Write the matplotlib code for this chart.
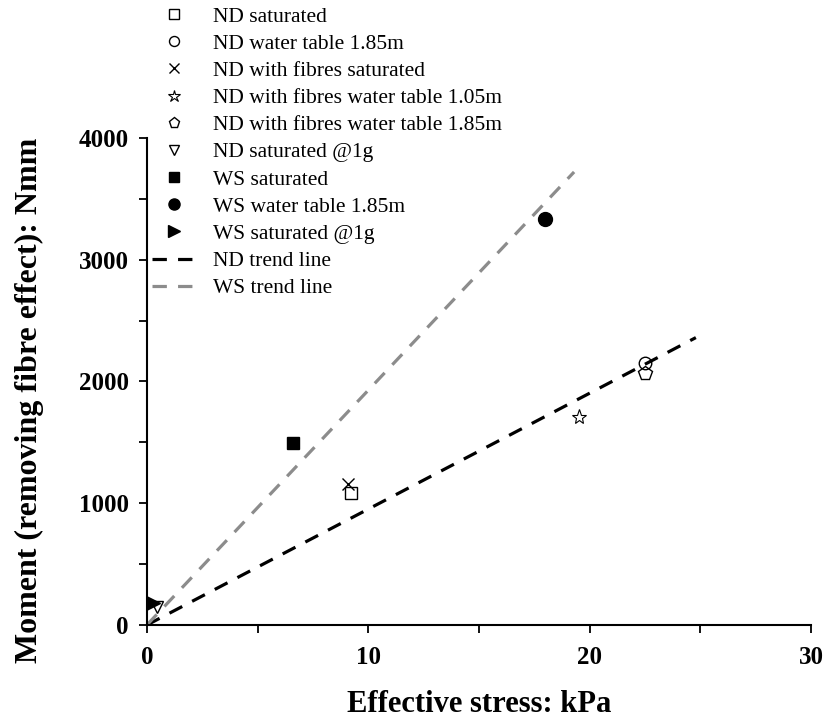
import matplotlib
matplotlib.use("Agg")
import matplotlib.pyplot as plt
import numpy as np

plt.rcParams['font.family'] = ['Liberation Serif', 'DejaVu Serif']

# Data (effective stress kPa, moment Nmm)
nd_sat_x, nd_sat_y = [9.2], [1085]
nd_wt185_x, nd_wt185_y = [22.5], [2150]
nd_fib_sat_x, nd_fib_sat_y = [9.1], [1155]
nd_fib_wt105_x, nd_fib_wt105_y = [19.5], [1710]
nd_fib_wt185_x, nd_fib_wt185_y = [22.5], [2070]
nd_sat1g_x, nd_sat1g_y = [0.45], [145]
ws_sat_x, ws_sat_y = [6.6], [1495]
ws_wt185_x, ws_wt185_y = [18.0], [3335]
ws_sat1g_x, ws_sat1g_y = [0.3], [180]

nd_trend_x, nd_trend_y = [0, 24.8], [0, 2360]
ws_trend_x, ws_trend_y = [0, 19.3], [0, 3720]

fig = plt.figure(figsize=(8.25, 7.18), dpi=100)
ax = fig.add_axes([0.178, 0.1295, 0.805, 0.6785])

ms = 9
ax.plot(nd_sat_x, nd_sat_y, 's', ms=ms, mfc='white', mec='black', mew=1.0, ls='none', label='ND saturated')
ax.plot(nd_wt185_x, nd_wt185_y, 'o', ms=ms, mfc='none', mec='black', mew=1.0, ls='none', label='ND water table 1.85m')
ax.plot(nd_fib_sat_x, nd_fib_sat_y, 'x', ms=ms, mec='black', mew=1.0, ls='none', label='ND with fibres saturated')
ax.plot(nd_fib_wt105_x, nd_fib_wt105_y, '*', ms=ms+2, mfc='white', mec='black', mew=0.8, ls='none', label='ND with fibres water table 1.05m')
ax.plot(nd_fib_wt185_x, nd_fib_wt185_y, 'p', ms=ms+1, mfc='none', mec='black', mew=1.0, ls='none', label='ND with fibres water table 1.85m')
ax.plot(nd_sat1g_x, nd_sat1g_y, 'v', ms=ms, mfc='white', mec='black', mew=1.0, ls='none', label='ND saturated @1g')
ax.plot(ws_sat_x, ws_sat_y, 's', ms=ms, color='black', ls='none', label='WS saturated')
ax.plot(ws_wt185_x, ws_wt185_y, 'o', ms=ms+1, color='black', ls='none', label='WS water table 1.85m')
ax.plot(ws_sat1g_x, ws_sat1g_y, '>', ms=ms+1, color='black', ls='none', label='WS saturated @1g')
ax.plot(nd_trend_x, nd_trend_y, ls=(0, (4.5, 3.5)), color='black', lw=2.3, label='ND trend line')
ax.plot(ws_trend_x, ws_trend_y, ls=(0, (4.5, 3.5)), color='#8c8c8c', lw=2.3, label='WS trend line')

ax.set_xlim(0, 30)
ax.set_ylim(0, 4000)
ax.set_xticks([0, 10, 20, 30])
ax.set_xticks([5, 15, 25], minor=True)
ax.set_yticks([0, 1000, 2000, 3000, 4000])
ax.set_yticks([500, 1500, 2500, 3500], minor=True)
for s in ['top', 'right']:
    ax.spines[s].set_visible(False)
for s in ['left', 'bottom']:
    ax.spines[s].set_linewidth(1.5)
ax.tick_params(which='both', direction='out', length=6, width=1.3)
ax.tick_params(axis='x', labelsize=18, pad=9)
ax.tick_params(axis='y', labelsize=18, pad=7)
for lab in ax.get_xticklabels() + ax.get_yticklabels():
    lab.set_fontweight('bold')

ax.set_xlabel('Effective stress: kPa', fontsize=22, fontweight='bold')
ax.set_ylabel('Moment (removing fibre effect): Nmm', fontsize=23, fontweight='bold')
ax.xaxis.set_label_coords(0.5, -0.133)
ax.yaxis.set_label_coords(-0.155, 0.462)

leg = ax.legend(loc='upper left', bbox_to_anchor=(146/825, 1.0), bbox_transform=fig.transFigure,
                frameon=False, fontsize=15.5, labelspacing=0.33, handlelength=2.0,
                handletextpad=0.8, borderaxespad=0.2, borderpad=0.1, markerscale=0.8)

fig.savefig('out.png', dpi=100)
